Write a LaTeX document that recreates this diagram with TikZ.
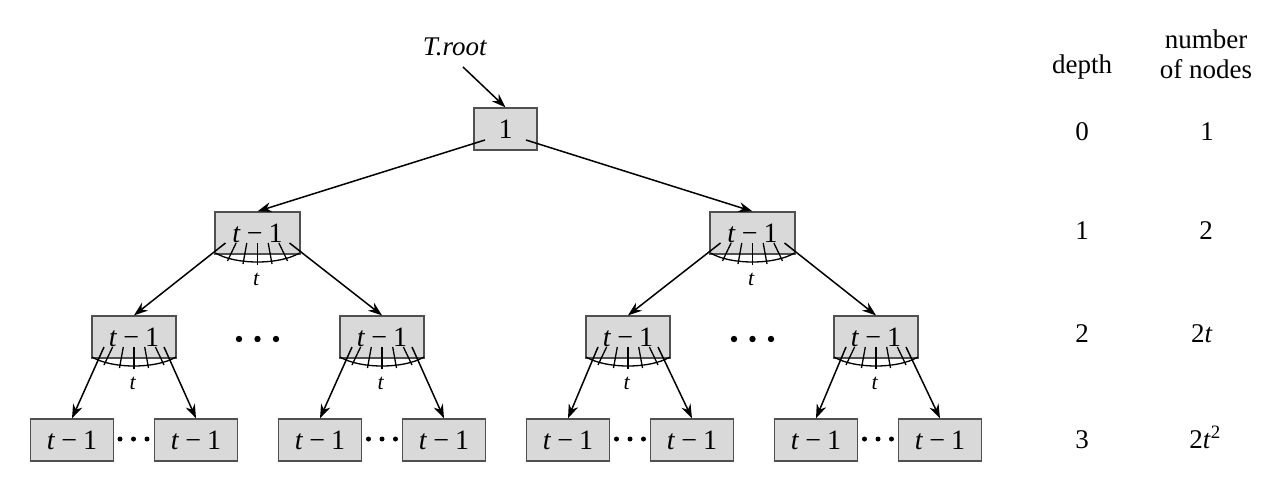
\documentclass[tikz,border=0pt]{standalone}
\usepackage{fontspec}
\setmainfont{Liberation Serif}
\usetikzlibrary{arrows.meta,calc}
\definecolor{boxfill}{RGB}{217,217,217}
\definecolor{boxline}{RGB}{80,80,80}
\tikzset{
  keybox/.style={draw=boxline,fill=boxfill,line width=1.3pt,minimum height=42pt,inner sep=0pt,font=\fontsize{28}{30}\selectfont},
  treeedge/.style={line width=1.5pt,-{Stealth[length=14pt,width=10pt,inset=4.5pt]}},
  fanline/.style={line width=1.3pt},
  lab/.style={font=\fontsize{27}{30}\selectfont,anchor=base,inner sep=0pt},
  dotfill/.style={fill=black},
}
\newcommand{\tmo}{\textit{t}\hspace{0.22em}−\hspace{0.22em}1}
\newcommand{\fanat}[1]{%
  \draw[fanline] ([shift={(-21.4,10)}]#1.center) -- ([shift={(-30,28)}]#1.center);
  \draw[fanline] ([shift={(-10.7,10)}]#1.center) -- ([shift={(-14.5,31)}]#1.center);
  \draw[fanline] ([shift={(0,10)}]#1.center) -- ([shift={(0,32)}]#1.center);
  \draw[fanline] ([shift={(10.7,10)}]#1.center) -- ([shift={(14.5,31)}]#1.center);
  \draw[fanline] ([shift={(21.4,10)}]#1.center) -- ([shift={(30,28)}]#1.center);
  \draw[fanline] ([shift={(-42,20)}]#1.center) .. controls ([shift={(-22,32)}]#1.center) and ([shift={(22,32)}]#1.center) .. ([shift={(42,20)}]#1.center);
  \node[font=\fontsize{22}{24}\selectfont,inner sep=0pt] (#1t) at ([shift={(-1,46)}]#1.center) {\textit{t}};
}
\begin{document}
\begin{tikzpicture}[x=1pt,y=-1pt]
\useasboundingbox (0,0) rectangle (1283,490);

% nodes
\node[keybox,minimum width=63pt] (root) at (505.5,129) {1};
\node[lab] (troot) at (455,55) {\textit{T.root}};
\coordinate (tstart) at (463,67);

\node[keybox,minimum width=85pt] (l1a) at (257.5,233) {\tmo};
\node[keybox,minimum width=85pt] (l1b) at (752.5,233) {\tmo};

\node[keybox,minimum width=84pt] (l2a) at (134,337) {\tmo};
\node[keybox,minimum width=84pt] (l2b) at (382,337) {\tmo};
\node[keybox,minimum width=84pt] (l2c) at (628,337) {\tmo};
\node[keybox,minimum width=84pt] (l2d) at (876,337) {\tmo};

\node[keybox,minimum width=83pt] (l3a1) at (72,440) {\tmo};
\node[keybox,minimum width=83pt] (l3a2) at (196,440) {\tmo};
\node[keybox,minimum width=83pt] (l3b1) at (320,440) {\tmo};
\node[keybox,minimum width=83pt] (l3b2) at (444,440) {\tmo};
\node[keybox,minimum width=83pt] (l3c1) at (568,440) {\tmo};
\node[keybox,minimum width=83pt] (l3c2) at (692,440) {\tmo};
\node[keybox,minimum width=83pt] (l3d1) at (816,440) {\tmo};
\node[keybox,minimum width=83pt] (l3d2) at (940,440) {\tmo};

% fans
\fanat{l1a}
\fanat{l1b}
\fanat{l2a}
\fanat{l2b}
\fanat{l2c}
\fanat{l2d}

% edges
\draw[treeedge] (tstart) -- (root.north);
\draw[treeedge] ([shift={(-20.5,11)}]root.center) -- (l1a.north);
\draw[treeedge] ([shift={(20.5,11)}]root.center) -- (l1b.north);

\foreach \p/\a/\b in {l1a/l2a/l2b, l1b/l2c/l2d}{
  \draw[treeedge] ([shift={(-32,10)}]\p.center) -- (\a.north);
  \draw[treeedge] ([shift={(32,10)}]\p.center) -- (\b.north);
}
\foreach \p/\a/\b in {l2a/l3a1/l3a2, l2b/l3b1/l3b2, l2c/l3c1/l3c2, l2d/l3d1/l3d2}{
  \draw[treeedge] ([shift={(-30,10)}]\p.center) -- (\a.north);
  \draw[treeedge] ([shift={(30,10)}]\p.center) -- (\b.north);
}

% ellipses
\foreach \x in {257.5,752.5}{
  \foreach \d in {-18.5,0,18.5}{
    \fill[dotfill] (\x+\d,339) circle (3.2);
  }
}
\foreach \x in {133.5,382,630,878}{
  \foreach \d in {-13.5,0,13.5}{
    \fill[dotfill] (\x+\d,439) circle (2.5);
  }
}

% right columns
\node[lab] (hdepth) at (1082,73) {depth};
\node[lab] (hnum1) at (1206,48) {number};
\node[lab] (hnum2) at (1206,78) {of nodes};
\node[lab] (d0) at (1082,140) {0};
\node[lab] (d1) at (1082,239) {1};
\node[lab] (d2) at (1082,342) {2};
\node[lab] (d3) at (1082,448) {3};
\node[lab] (n0) at (1207,140) {1};
\node[lab] (n1) at (1206,239) {2};
\node[lab] (n2) at (1202,342) {2\textit{t}};
\node[lab] (n3) at (1205,448) {2\textit{t}\textsuperscript{2}};
\end{tikzpicture}
\end{document}
